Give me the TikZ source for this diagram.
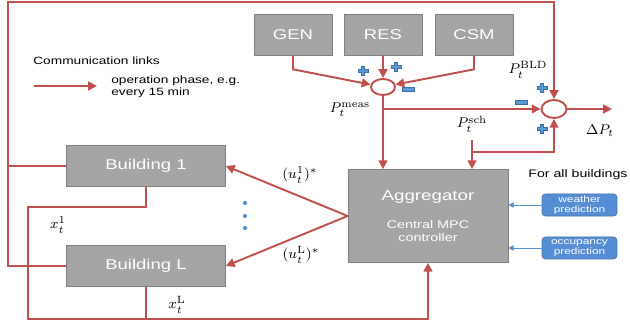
\documentclass[tikz,border=0pt]{standalone}
\usepackage[no-math]{fontspec}
\setmainfont{Liberation Sans}[FakeStretch=1.3]
\usetikzlibrary{calc,arrows.meta,shapes.geometric}
\definecolor{linkred}{RGB}{192,80,77}
\definecolor{boxgray}{RGB}{165,165,165}
\definecolor{boxedge}{RGB}{128,128,128}
\definecolor{predblue}{RGB}{85,142,213}
\definecolor{signblue}{RGB}{91,155,213}
\definecolor{signedge}{RGB}{60,110,170}
\tikzset{
  redline/.style={draw=linkred,line width=1.1pt},
  redarrow/.style={redline,-{Triangle[length=5pt,width=5pt]}},
  unit/.style={draw=boxedge,fill=boxgray,text=white,minimum width=1.56cm,minimum height=0.82cm,font=\fontsize{8.1}{9}\selectfont},
  bldg/.style={unit,minimum width=3.18cm},
  pred/.style={draw=predblue!80!black,fill=predblue,text=white,rounded corners=2pt,minimum width=1.5cm,minimum height=0.44cm,align=center,inner sep=1pt,font=\fontsize{5.2}{5.7}\selectfont},
  predarrow/.style={draw=predblue,line width=0.5pt,-{Triangle[length=3pt,width=3pt]}},
  junction/.style={draw=linkred,line width=1.1pt,ellipse,fill=white,inner sep=0pt},
  lbl/.style={inner sep=1pt,font=\footnotesize},
  psign/.pic={\filldraw[fill=signblue,draw=signedge,line width=0.3pt] (-5,-1.6) -- (-1.6,-1.6) -- (-1.6,-4.5) -- (1.6,-4.5) -- (1.6,-1.6) -- (5,-1.6) -- (5,1.6) -- (1.6,1.6) -- (1.6,4.5) -- (-1.6,4.5) -- (-1.6,1.6) -- (-5,1.6) -- cycle;},
  msign/.pic={\filldraw[fill=signblue,draw=signedge,line width=0.3pt] (-6,-2) rectangle (6,2);}
}
\begin{document}
\begin{tikzpicture}[x=0.02cm,y=-0.02cm]
\useasboundingbox (0,0) rectangle (630,330);
% sources and loads
\foreach \name/\xx/\txt in {gen/293/GEN,res/383/RES,csm/474/CSM}
  \node[unit] (\name) at (\xx,34.5) {\txt};
\node[bldg] (b1) at (146,166) {Building 1};
\node[bldg] (bL) at (146,266) {Building L};
\node[unit,minimum width=3.2cm,minimum height=1.86cm,align=center,font=\fontsize{6.3}{7.4}\selectfont] (agg) at (428,216)
  {{\fontsize{8.2}{9}\selectfont Aggregator}\\[8.5pt]Central MPC\\controller};
\node[pred] (wp) at (579.5,205) {weather\\prediction};
\node[pred] (op) at (579.5,248) {occupancy\\prediction};
\node[junction,minimum width=0.48cm,minimum height=0.32cm] (s1) at (383,87) {};
\node[junction,minimum width=0.5cm,minimum height=0.36cm] (s2) at (554,109) {};
\coordinate (tl) at (8,2);
\coordinate (bot) at (28,319);
\coordinate (mb) at (383,109);
\coordinate (sch) at (472,140);
\coordinate (schb) at (472,152);
\coordinate (dp) at (612,109);
\coordinate (la) at (34,86);
\coordinate (lb) at (97,86);
% power balance
\draw[redarrow] (gen.south) -- ++(0,14) -- (s1);
\draw[redarrow] (res.south) -- (s1.north);
\draw[redarrow] (csm.south) -- ++(0,14) -- (s1);
\draw[redarrow] (s1.south) -- (s1.south |- agg.north);
\draw[redarrow] (mb) -- (s2.west);
\draw[redarrow] (sch) -- (sch |- agg.north);
\draw[redarrow] (schb) -| (s2.south);
\draw[redarrow] (s2.east) -- (dp);
% buildings
\draw[redarrow] (bL.west) -| (tl) -| (s2.north);
\draw[redline] (b1.west) -- (b1.west -| tl);
\draw[redarrow] (b1.south) -- ++(0,20) -| (bot) -| (agg.south);
\draw[redline] (bL.south) -- (bL.south |- bot);
\draw[redarrow] (agg.west) -- (b1.east);
\draw[redarrow] (agg.west) -- (bL.east);
\draw[predarrow] (wp.west) -- (wp.west -| agg.east);
\draw[predarrow] (op.west) -- (op.west -| agg.east);
\foreach \yy in {203,216,228} \fill[predblue] (245,\yy) circle (1.2pt);
\foreach \xx/\yy in {363/71,396/67,542/88,542/129} \pic at (\xx,\yy) {psign};
\foreach \xx/\yy in {408/89,521/102} \pic at (\xx,\yy) {msign};
% labels
\node[lbl] (lx1) at (58,225) {$x_t^{\mathrm{1}}$};
\node[lbl] (lxL) at (177,305) {$x_t^{\mathrm{L}}$};
\node[lbl] (lu1) at (300,175) {$(u_t^{\mathrm{1}})^*$};
\node[lbl] (luL) at (301,255) {$(u_t^{\mathrm{L}})^*$};
\node[lbl] (lmeas) at (350,110) {$P_t^{\mathrm{meas}}$};
\node[lbl] (lbld) at (528,70) {$P_t^{\mathrm{BLD}}$};
\node[lbl] (lsch) at (472,124) {$P_t^{\mathrm{sch}}$};
\node[lbl] (ldp) at (600,131) {$\Delta P_t$};
% legend
\node[anchor=west,inner sep=0pt,font=\fontsize{6}{7}\selectfont] (leg) at (33,61) {Communication links};
\draw[redarrow] (la) -- (lb);
\node[anchor=north west,align=left,inner sep=0pt,font=\fontsize{6}{6.8}\selectfont] (legtxt) at (111,76) {operation phase, e.g.\\every 15 min};
\node[font=\fontsize{6.2}{7}\selectfont] (forall) at (578,175) {For all buildings};
\end{tikzpicture}
\end{document}
